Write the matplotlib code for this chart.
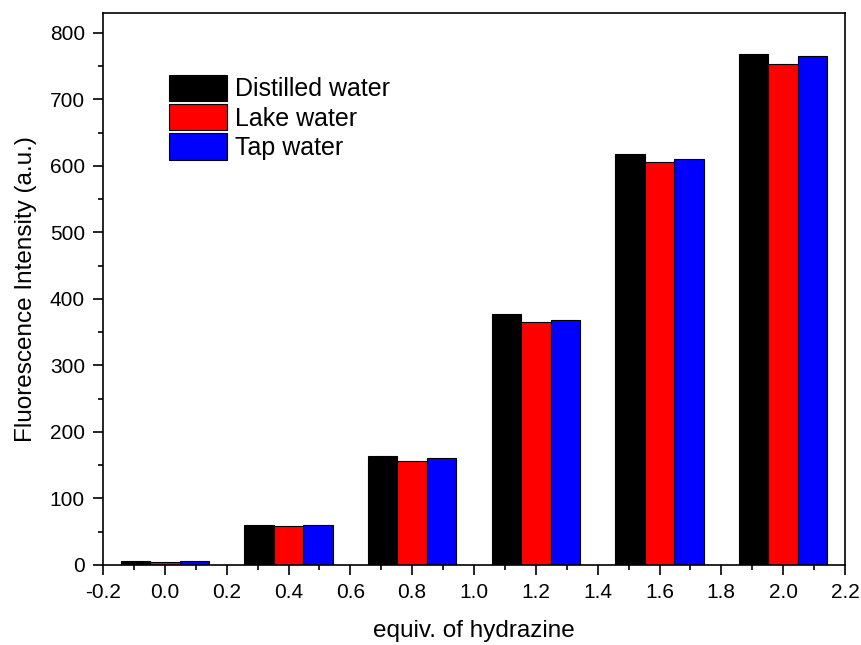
import numpy as np
import matplotlib
matplotlib.use("Agg")
import matplotlib.pyplot as plt
from matplotlib.ticker import MultipleLocator

# equiv. of hydrazine
equiv = [0.0, 0.4, 0.8, 1.2, 1.6, 2.0]
distilled = [6, 60, 164, 378, 618, 768]
lake = [5, 59, 157, 365, 606, 753]
tap = [6, 60, 161, 369, 611, 765]
labels = ["Distilled water", "Lake water", "Tap water"]
colors = ["#000000", "#ff0000", "#0000ff"]

plt.rcParams['font.family'] = ['Liberation Sans', 'DejaVu Sans']

fig = plt.figure(figsize=(8.61, 6.45), dpi=100)
ax = fig.add_axes([103/861, 1 - 565/645, 742/861, 552/645])

x = np.array(equiv)
w = 0.095
series = [distilled, lake, tap]
handles = []
for i, vals in enumerate(series):
    b = ax.bar(x + (i - 1) * w, vals, w, color=colors[i], edgecolor='black',
               linewidth=0.8, label=labels[i])
    handles.append(b)

ax.set_xlim(-0.2, 2.2)
ax.set_ylim(0, 830)
ax.xaxis.set_major_locator(MultipleLocator(0.2))
ax.xaxis.set_minor_locator(MultipleLocator(0.1))
ax.yaxis.set_major_locator(MultipleLocator(100))
ax.yaxis.set_minor_locator(MultipleLocator(50))
ax.xaxis.set_major_formatter(matplotlib.ticker.FormatStrFormatter('%.1f'))

ax.tick_params(which='major', direction='out', length=7, width=1.2, labelsize=15, pad=6)
ax.tick_params(which='minor', direction='out', length=3.5, width=1.2)
for s in ax.spines.values():
    s.set_linewidth(1.2)

ax.set_xlabel("equiv. of hydrazine", fontsize=17.5, labelpad=13)
ax.set_ylabel("Fluorescence Intensity (a.u.)", fontsize=17.5, labelpad=9)

ax.legend(handles=handles, labels=labels, loc='upper left',
          bbox_to_anchor=(0.089, 0.888), frameon=False, fontsize=18,
          borderpad=0, borderaxespad=0, handlelength=2.3, handleheight=1.25,
          labelspacing=0.1, handletextpad=0.35)

fig.savefig("out.png", dpi=100)
